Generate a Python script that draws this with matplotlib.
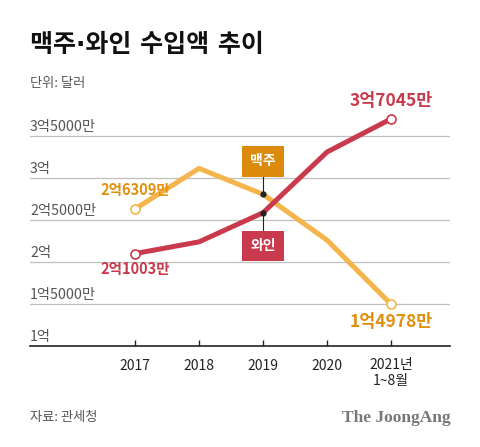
import numpy as np
import matplotlib
matplotlib.use("Agg")
from matplotlib import pyplot as plt

plt.rcParams["font.family"] = ["Noto Sans CJK KR", "DejaVu Sans"]

# data (unit: 1만 달러)
years = [2017, 2018, 2019, 2020, 2021]
year_labels = ["2017", "2018", "2019", "2020", "2021년\n1~8월"]
beer = [26309, 31150, 28060, 22600, 14978]
wine = [21003, 22400, 25870, 33100, 37045]
y_ticks = [10000, 15000, 20000, 25000, 30000, 35000]
y_tick_labels = ["1억", "1억5000만", "2억", "2억5000만", "3억", "3억5000만"]

RED = "#c93a4c"
ORANGE_LINE = "#f4b54c"
ORANGE_TEXT = "#e0900e"
ORANGE_BOX = "#dc8a0c"
GRAY = "#555555"

fig = plt.figure(figsize=(4.8, 4.47), dpi=100)
ax = fig.add_axes([30 / 480, 101 / 447, 420 / 480, 236 / 447])
ax.set_xlim(2015.36, 2021.92)
ax.set_ylim(10000, 38100)

for s in ["top", "right", "left"]:
    ax.spines[s].set_visible(False)
ax.spines["bottom"].set_color("#222222")
ax.spines["bottom"].set_linewidth(1.2)

ax.set_yticks([])
for v, lab in zip(y_ticks, y_tick_labels):
    if v > 10000:
        ax.axhline(v, color="#bfbfbf", lw=0.9, zorder=0)
    ax.text(2015.36, v + 250, lab, fontsize=10.3, color=GRAY, ha="left", va="bottom")

ax.set_xticks(years)
ax.set_xticklabels(year_labels, fontsize=10, color="#222222", linespacing=1.1)
ax.tick_params(axis="x", direction="in", length=4, width=1, color="#222222", pad=9)

ax.plot(years, beer, color=ORANGE_LINE, lw=3.6, solid_capstyle="butt", zorder=2)
ax.plot(years, wine, color=RED, lw=3.6, solid_capstyle="butt", zorder=3)

# end markers
ax.plot([years[0], years[-1]], [beer[0], beer[-1]], "o", ms=6.5, mfc="white",
        mec=ORANGE_LINE, mew=1.2, zorder=4)
ax.plot([years[0], years[-1]], [wine[0], wine[-1]], "o", ms=6.5, mfc="white",
        mec=RED, mew=1.2, zorder=4)

# value labels
ax.text(years[0], beer[0] + 1300, "2억6309만", color=ORANGE_TEXT, fontsize=10.5,
        fontweight="bold", ha="center", va="bottom")
ax.text(years[0], wine[0] - 900, "2억1003만", color=RED, fontsize=10.5,
        fontweight="bold", ha="center", va="top")
ax.text(years[-1], wine[-1] + 1100, "3억7045만", color=RED, fontsize=12.5,
        fontweight="bold", ha="center", va="bottom")
ax.text(years[-1], beer[-1] - 1000, "1억4978만", color=ORANGE_TEXT, fontsize=12.5,
        fontweight="bold", ha="center", va="top")

# series tags at 2019
ax.plot([2019, 2019], [beer[2], 32000], color="#222222", lw=0.8, zorder=5)
ax.plot([2019, 2019], [wine[2], 21900], color="#222222", lw=0.8, zorder=5)
ax.plot([2019, 2019], [beer[2], wine[2]], "o", color="#222222", ms=3.5, zorder=6)
ax.text(2019, 32000, "맥주", color="white", fontsize=10, fontweight="bold",
        ha="center", va="center", zorder=6,
        bbox=dict(boxstyle="square,pad=0.6", fc=ORANGE_BOX, ec="none"))
ax.text(2019, 21900, "와인", color="white", fontsize=10, fontweight="bold",
        ha="center", va="center", zorder=6,
        bbox=dict(boxstyle="square,pad=0.6", fc=RED, ec="none"))

# titles and notes
fig.text(30 / 480, 1 - 45 / 447, "맥주·와인 수입액 추이", fontsize=18, fontweight="heavy",
         family=["DejaVu Sans", "Noto Sans CJK KR"], color="#111111", ha="left", va="center")
fig.text(30 / 480, 1 - 83 / 447, "단위: 달러", fontsize=9.5, color=GRAY, ha="left", va="center")
fig.text(30 / 480, 1 - 418 / 447, "자료: 관세청", fontsize=9.5, color=GRAY, ha="left", va="center")
fig.text(451 / 480, 1 - 418 / 447, "The JoongAng", fontsize=12.5, fontweight="bold",
         family="Liberation Serif", color="#777777", ha="right", va="center")

fig.savefig("out.png", dpi=100)
